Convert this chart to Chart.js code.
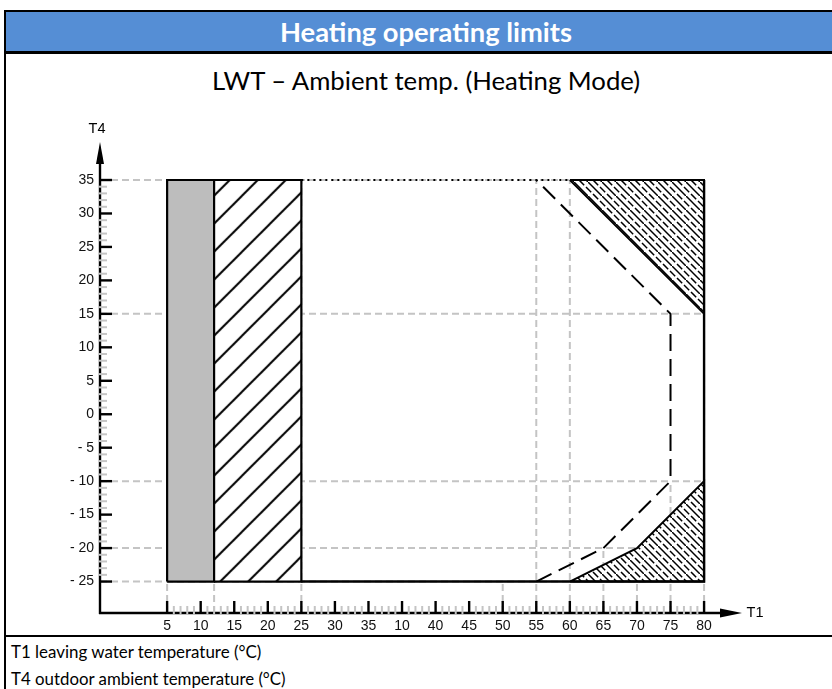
<!DOCTYPE html>
<html>
<head>
<meta charset="utf-8">
<script src="https://cdn.jsdelivr.net/npm/chart.js@4.4.0/dist/chart.umd.min.js"></script>
<style>
html,body{margin:0;padding:0;background:#fff;width:832px;height:689px;overflow:hidden;position:relative;}
.blk{position:absolute;background:#000;}
#bar{position:absolute;left:6px;top:12px;width:826px;height:39px;background:#558ed5;}
.t{position:absolute;white-space:nowrap;line-height:normal;margin:0;padding:0;}
#c{position:absolute;left:0;top:0;}
</style>
</head>
<body>
<div class="blk" style="left:4px;top:10px;width:2px;height:679px;"></div>
<div class="blk" style="left:4px;top:10px;width:828px;height:2px;"></div>
<div id="bar"></div>
<div class="blk" style="left:6px;top:51px;width:826px;height:3px;"></div>
<div class="blk" style="left:6px;top:635px;width:826px;height:2px;"></div>
<div id="title" class="t" style="color:#fff;"></div>
<div id="sub" class="t" style="color:#000;"></div>
<div id="foot1" class="t" style="color:#000;"></div>
<div id="foot2" class="t" style="color:#000;"></div>
<canvas id="c" width="832" height="689"></canvas>
<div id="t4" class="t" style="color:#000;"></div>
<div id="t1" class="t" style="color:#000;"></div>
<script>
// ---------- data ----------
const xTickLabels = [5, 10, 15, 20, 25, 30, 35, 10, 40, 45, 50, 55, 60, 65, 70, 75, 80];
const yTickValues = [-25, -20, -15, -10, -5, 0, 5, 10, 15, 20, 25, 30, 35];

const grayZoneT1 = [5, 5, 12, 12, 5];
const grayZoneT4 = [-25, 35, 35, -25, -25];
const hatchZoneT1 = [12, 12, 25, 25, 12];
const hatchZoneT4 = [-25, 35, 35, -25, -25];
const limitT1 = [55, 65, 75, 75, 55];
const limitT4 = [-25, -20, -10, 15, 35];
const topRightT1 = [60, 80, 80, 60];
const topRightT4 = [35, 35, 15, 35];
const bottomRightT1 = [60, 70, 80, 80, 60];
const bottomRightT4 = [-25, -20, -10, -25, -25];
const edgeT1 = [25, 80, 80];
const edgeT4 = [-25, -25, 35];
const topEdgeT1 = [25, 80];
const topEdgeT4 = [35, 35];
const hGuideT4 = [35, 15, -10, -20, -25];
const vGuideT1 = [5, 12, 25, 50, 55, 60, 65, 70, 75, 80];
const vGuideTopT4 = [35, 35, 35, -25, 35, 35, -20, -20, -10, 35];

// ---------- texts ----------
function place(id, text, family, weight, left, right, baseline, center) {
  const c = document.createElement('canvas').getContext('2d');
  c.font = weight + ' 100px ' + family;
  const w = c.measureText(text).width;
  const size = right != null ? 100 * (right - left) / w : left;
  c.font = weight + ' ' + size + 'px ' + family;
  const m = c.measureText(text);
  const el = document.getElementById(id);
  el.textContent = text;
  el.style.fontFamily = family;
  el.style.fontWeight = weight;
  el.style.fontSize = size + 'px';
  const x = right != null ? left : (center - m.width / 2);
  el.style.left = x + 'px';
  el.style.top = (baseline - m.fontBoundingBoxAscent) + 'px';
}
place('title', 'Heating operating limits', 'Lato', 'bold', 280, 572, 41.5);
place('sub', 'LWT \u2013 Ambient temp. (Heating Mode)', 'Lato', 'normal', 212, 642, 90);
place('foot1', 'T1 leaving water temperature (\u00B0C)', 'Lato', 'normal', 11, 262, 657.5);
place('foot2', 'T4 outdoor ambient temperature (\u00B0C)', 'Lato', 'normal', 11, 286, 685);
place('t4', 'T4', '"Liberation Sans"', 'normal', 14.5, null, 133, 97);
place('t1', 'T1', '"Liberation Sans"', 'normal', 14.5, null, 617, 755);

// ---------- helpers ----------
function t1Pos(v) {
  for (let i = 0; i < xTickLabels.length - 1; i++) {
    const a = xTickLabels[i], b = xTickLabels[i + 1];
    if (b > a && v >= a && v <= b) return i + (v - a) / (b - a);
  }
  return NaN;
}
function pts(xs, ys) { return xs.map((v, i) => ({x: t1Pos(v), y: ys[i]})); }

const X_MIN = -2, X_MAX = 17.13, Y_MIN = -29.7, Y_MAX = 40.68;

function hatchPattern(size, bg, drawFn, dx) {
  const cv = document.createElement('canvas');
  cv.width = size; cv.height = size;
  const g = cv.getContext('2d');
  g.fillStyle = bg; g.fillRect(0, 0, size, size);
  g.strokeStyle = '#000';
  drawFn(g, size);
  const p = document.getElementById('c').getContext('2d').createPattern(cv, 'repeat');
  if (dx) p.setTransform(new DOMMatrix().translate(dx, 0));
  return p;
}
function seg(g, a, b, c, d) { g.beginPath(); g.moveTo(a, b); g.lineTo(c, d); g.stroke(); }
const slashPattern = hatchPattern(28, '#fff', (g, s) => {
  g.lineWidth = 2;
  seg(g, -1, s + 1, s + 1, -1);
  seg(g, -2, 2, 2, -2);
  seg(g, s - 2, s + 2, s + 2, s - 2);
}, 17.7);
const backPattern = hatchPattern(14, '#fff', (g, s) => {
  g.lineWidth = 1.5;
  // solid lines x - y = 0 (and wrap)
  seg(g, -2, -2, s + 2, s + 2);
  // dashed lines x - y = s/2 and x - y = -s/2, same phase at same y
  const per = s * Math.SQRT2 / 2;
  g.setLineDash([per * 0.74, per * 0.26]);
  seg(g, s / 2 - 2, -2, s / 2 + s + 2, s + 2);
  seg(g, -s / 2 - 2, -2, -s / 2 + s + 2, s + 2);
}, 0);

const hGuide = [];
hGuideT4.forEach(v => { hGuide.push({x: X_MIN, y: v}, {x: t1Pos(80), y: v}, {x: t1Pos(80), y: null}); });
const vGuide = [];
vGuideT1.forEach((v, i) => { vGuide.push({x: t1Pos(v), y: Y_MIN}, {x: t1Pos(v), y: vGuideTopT4[i]}, {x: t1Pos(v), y: null}); });

const base = {pointRadius: 0, pointHoverRadius: 0, tension: 0, fill: false, borderJoinStyle: 'miter', spanGaps: false};

const axisDeco = {
  id: 'axisDeco',
  afterDraw(chart) {
    const {ctx, chartArea: a, scales: {x, y}} = chart;
    const x0 = a.left, y0 = a.bottom;
    const L = (p, q, r, s) => { ctx.beginPath(); ctx.moveTo(p, q); ctx.lineTo(r, s); ctx.stroke(); };
    ctx.save();
    ctx.strokeStyle = '#000'; ctx.lineWidth = 2.4;
    L(x0, y0 + 1, x0, a.top + 18);
    L(x0 - 1, y0, a.right - 18, y0);
    ctx.fillStyle = '#000';
    ctx.beginPath(); ctx.moveTo(x0, a.top); ctx.lineTo(x0 - 4, a.top + 22); ctx.lineTo(x0 + 4, a.top + 22); ctx.closePath(); ctx.fill();
    ctx.beginPath(); ctx.moveTo(a.right, y0); ctx.lineTo(a.right - 22, y0 - 4.5); ctx.lineTo(a.right - 22, y0 + 4.5); ctx.closePath(); ctx.fill();
    ctx.strokeStyle = '#c4c4c4'; ctx.lineWidth = 2;
    for (let v = yTickValues[0]; v <= yTickValues[yTickValues.length - 1]; v++) {
      if (yTickValues.includes(v)) continue;
      const py = y.getPixelForValue(v);
      L(x0 - 1, py, x0 + 7, py);
    }
    for (let i = 0; i <= (xTickLabels.length - 1) * 5; i++) {
      if (i % 5 === 0) continue;
      const px = x.getPixelForValue(i / 5);
      L(px, y0 + 1, px, y0 - 7);
    }
    ctx.strokeStyle = '#000'; ctx.lineWidth = 2.4;
    yTickValues.forEach(v => { const py = y.getPixelForValue(v); L(x0, py, x0 + 12, py); });
    xTickLabels.forEach((_, i) => { const px = x.getPixelForValue(i); L(px, y0, px, y0 - 12); });
    ctx.restore();
  }
};

new Chart(document.getElementById('c'), {
  type: 'line',
  data: {
    datasets: [
      Object.assign({}, base, {label: 'limit', data: pts(limitT1, limitT4), borderColor: '#000', borderWidth: 2, borderDash: [17, 8]}),
      Object.assign({}, base, {label: 'edge', data: pts(edgeT1, edgeT4), borderColor: '#000', borderWidth: 2.4}),
      Object.assign({}, base, {label: 'topEdge', data: pts(topEdgeT1, topEdgeT4), borderColor: '#000', borderWidth: 2, borderDash: [2, 4]}),
      Object.assign({}, base, {label: 'topRight', data: pts(topRightT1, topRightT4), fill: 'shape', backgroundColor: backPattern, borderColor: '#000', borderWidth: 1.8}),
      Object.assign({}, base, {label: 'bottomRight', data: pts(bottomRightT1, bottomRightT4), fill: 'shape', backgroundColor: backPattern, borderColor: '#000', borderWidth: 2}),
      Object.assign({}, base, {label: 'hatch', data: pts(hatchZoneT1, hatchZoneT4), fill: 'shape', backgroundColor: slashPattern, borderColor: '#000', borderWidth: 2.2}),
      Object.assign({}, base, {label: 'gray', data: pts(grayZoneT1, grayZoneT4), fill: 'shape', backgroundColor: '#bdbdbd', borderColor: '#000', borderWidth: 2.2}),
      Object.assign({}, base, {label: 'vGuide', data: vGuide, borderColor: '#c4c4c4', borderWidth: 2, borderDash: [7, 4]}),
      Object.assign({}, base, {label: 'hGuide', data: hGuide, borderColor: '#c4c4c4', borderWidth: 2, borderDash: [7, 4]})
    ]
  },
  options: {
    responsive: false,
    animation: false,
    devicePixelRatio: 1,
    layout: {padding: {left: 0, top: 142, right: 90, bottom: 0}},
    plugins: {legend: {display: false}, tooltip: {enabled: false}},
    events: [],
    scales: {
      x: {
        type: 'linear', min: X_MIN, max: X_MAX,
        afterBuildTicks: s => { s.ticks = xTickLabels.map((_, i) => ({value: i})); },
        afterFit: s => { s.height = 689 - 613; },
        grid: {display: false, drawTicks: false},
        border: {display: false},
        ticks: {
          autoSkip: false, maxRotation: 0, padding: 5, color: '#111',
          font: {family: '"Liberation Sans"', size: 14},
          callback: (v, i) => String(xTickLabels[i])
        }
      },
      y: {
        type: 'linear', min: Y_MIN, max: Y_MAX,
        afterBuildTicks: s => { s.ticks = yTickValues.map(v => ({value: v})); },
        afterFit: s => { s.width = 100; },
        grid: {display: false, drawTicks: false},
        border: {display: false},
        ticks: {
          autoSkip: false, padding: 6, color: '#111',
          font: {family: '"Liberation Sans"', size: 14},
          callback: v => v < 0 ? '- ' + (-v) : String(v)
        }
      }
    }
  },
  plugins: [axisDeco]
});
</script>
</body>
</html>
